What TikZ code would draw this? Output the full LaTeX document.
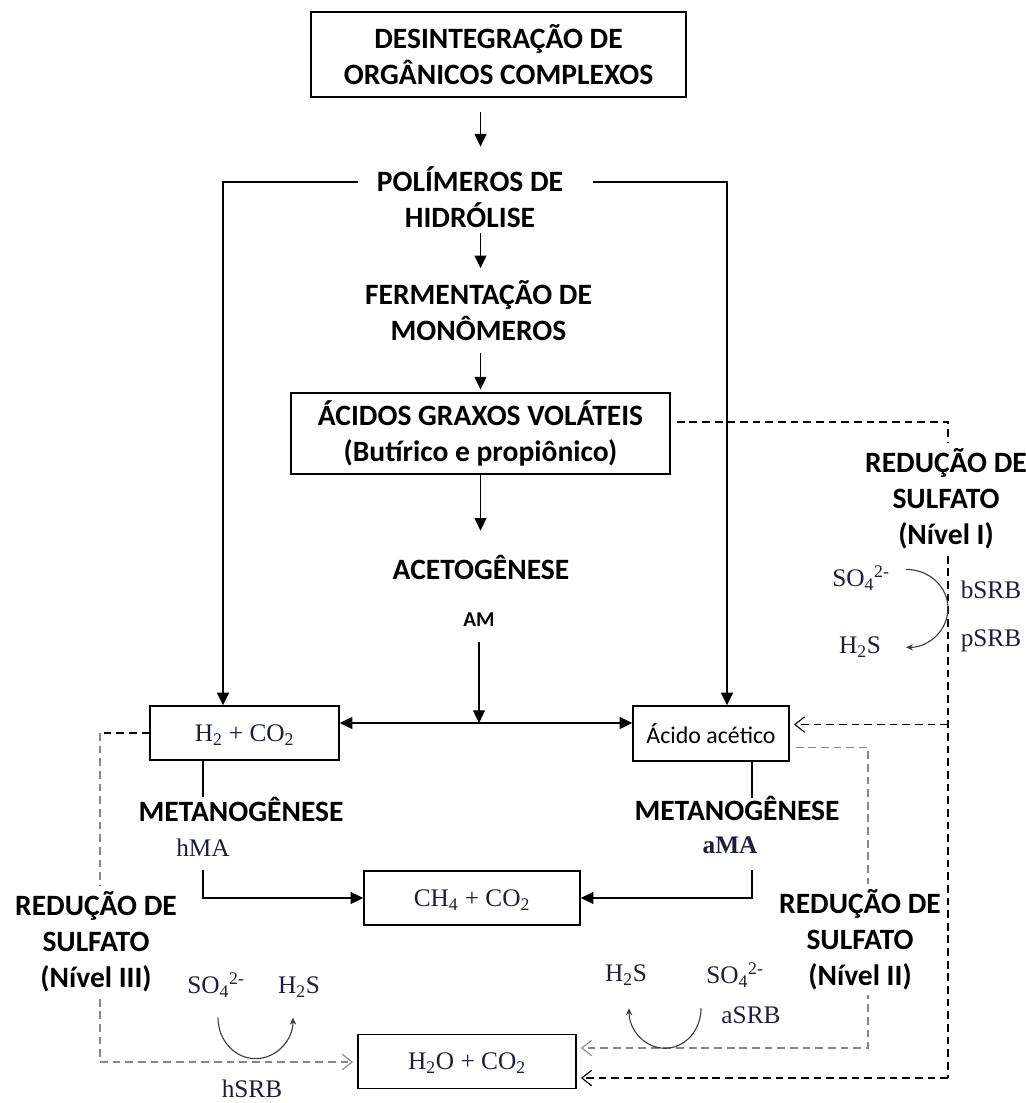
\documentclass[tikz,border=0pt]{standalone}
\usepackage{fontspec}
\setmainfont{Carlito}
\newfontfamily\tnr{Liberation Serif}
\usetikzlibrary{arrows.meta,calc}
\definecolor{formula}{RGB}{28,30,62}
\definecolor{dashgray}{RGB}{135,135,135}
\definecolor{curvegray}{RGB}{60,60,60}

\begin{document}
\begin{tikzpicture}[x=0.025cm, y=-0.025cm,
  box/.style={draw, line width=1pt, inner sep=0pt},
  lbl/.style={font=\bfseries\fontsize{21}{25.5}\selectfont, align=center, inner sep=0pt},
  one/.style={text height=13.5pt, text depth=0pt},
  chem/.style={font=\tnr\fontsize{18}{20}\selectfont, text=formula, inner sep=0pt, text height=11.9pt, text depth=0pt},
  arr/.style={line width=0.9pt, -{Triangle[length=9pt,width=8.5pt]}},
  dsh/.style={line width=0.9pt, dash pattern=on 5.5pt off 3.5pt},
  gdsh/.style={dsh, draw=dashgray, line width=1.1pt},
  oarr/.style={-{Straight Barb[length=7pt,width=11pt,line width=0.8pt]}, shorten >=3pt},
  crv/.style={draw=curvegray, line width=0.8pt, -{Stealth[length=5pt,width=4.5pt]}},
  redn/.style={lbl, fill=white, inner sep=4pt}]
\useasboundingbox (0,0) rectangle (1025,1103);

% main column:
\node[box, lbl, minimum width=9.375cm, minimum height=2.125cm] (desint) at (498.5,54.5) {DESINTEGRAÇÃO DE\\ORGÂNICOS COMPLEXOS};
\node[lbl] (polim) at (470,197) {POLÍMEROS DE\\HIDRÓLISE};
\node[lbl] (ferm) at (478.5,311) {FERMENTAÇÃO DE\\MONÔMEROS};
\node[box, lbl, minimum width=9.475cm, minimum height=2.025cm] (agv) at (480.5,433.5) {ÁCIDOS GRAXOS VOLÁTEIS\\(Butírico e propiônico)};
\node[lbl, one] (acet) at (481,570) {ACETOGÊNESE};
\node[font=\bfseries\fontsize{15}{18}\selectfont, inner sep=0pt, text height=9.7pt, text depth=0pt] (am) at (479,620) {AM};

% intermediate products:
\node[box, chem, minimum width=4.725cm, minimum height=1.35cm] (hco) at (244.5,733) {H\textsubscript{2} + CO\textsubscript{2}};
\node[box, font=\fontsize{17}{20}\selectfont, minimum width=3.9cm, minimum height=1.375cm] (acido) at (711,733.5) {Ácido acético};
\node[lbl, one] (metl) at (241,812) {METANOGÊNESE};
\node[chem] (hma) at (203,848) {hMA};
\node[lbl, one] (metr) at (737,811) {METANOGÊNESE};
\node[chem, font=\tnr\bfseries\fontsize{18}{20}\selectfont] (ama) at (730,845) {aMA};
\node[box, chem, minimum width=5.4cm, minimum height=1.35cm] (ch4) at (472,898) {CH\textsubscript{4} + CO\textsubscript{2}};
\node[box, chem, minimum width=5.45cm, minimum height=1.35cm] (h2o) at (467,1061.5) {H\textsubscript{2}O + CO\textsubscript{2}};

% sulfate species:
\node[chem] (so4a) at (861,578) {SO\textsubscript{4}\textsuperscript{2-}};
\node[chem] (h2sa) at (860,645) {H\textsubscript{2}S};
\node[chem] (bsrb) at (991,590) {bSRB};
\node[chem] (psrb) at (991,638) {pSRB};
\node[chem] (h2sb) at (626,973) {H\textsubscript{2}S};
\node[chem] (so4b) at (735,975) {SO\textsubscript{4}\textsuperscript{2-}};
\node[chem] (asrb) at (751,1015) {aSRB};
\node[chem] (so4c) at (216,985) {SO\textsubscript{4}\textsuperscript{2-}};
\node[chem] (h2sc) at (299,985) {H\textsubscript{2}S};
\node[chem] (hsrb) at (252,1089) {hSRB};

% arrows down the column:
\draw[arr, shorten <=10.5pt, shorten >=14pt] (desint.south -| agv) -- (polim.north -| agv);
\draw[arr, shorten <=3.9pt, shorten >=8.9pt] (polim.south -| agv) -- (ferm.north -| agv);
\draw[arr, shorten <=8.2pt, shorten >=2pt] (ferm.south -| agv) -- (agv.north);
\draw[arr, shorten >=21pt] (agv.south) -- (acet.north -| agv);
\coordinate (jn) at ($(hco.east)+(0,-10)$);
\draw[line width=0.9pt, {Triangle[length=9pt,width=8.5pt]}-{Triangle[length=9pt,width=8.5pt]}] (jn) -- (jn -| acido.west);
\draw[arr, shorten <=10.8pt] (am.south) -- (am |- jn);

% hydrolysis branches:
\draw[arr, line width=1.1pt] ($(polim.west)+(-19,-15)$) -| ($(hco.north)+(-21.5,0)$);
\draw[arr, line width=1.1pt] ($(polim.east)+(30,-15)$) -| ($(acido.north)+(16,0)$);

% methanogenesis:
\draw[line width=0.9pt, shorten >=3.9pt] (hco.south -| hma) -- (metl.north -| hma);
\draw[arr, shorten <=9.7pt] (hma.south) |- (ch4.west);
\draw[line width=0.9pt, shorten >=2.5pt] ($(acido.south)+(41,0)$) -- ($(metr.north)+(15,0)$);
\draw[arr, shorten <=11.8pt] ($(ama.south)+(22,0)$) |- (ch4.east);

% sulfate reduction paths:
\coordinate (nI) at (948,422);
\coordinate (nIb) at (948,1078);
\coordinate (nII) at (868,1048);
\coordinate (nIII) at (100,1062);
\coordinate (jn2) at ($(acido.east)+(0,-9)$);
\draw[dsh, shorten <=4.3pt] (agv.east |- nI) -- (nI) -- (nIb);
\draw[dsh, oarr] (nIb) -- (nIb -| h2o.east);
\draw[dsh, oarr] (jn2 -| nI) -- (jn2);
\draw[gdsh, oarr, shorten <=4.3pt] ($(acido.east)+(0,14)$) -| (nII) -- (nII -| h2o.east);
\draw[dsh] (hco.west) -- (hco.west -| nIII);
\draw[gdsh, oarr] (hco.west -| nIII) -- (nIII) -- (nIII -| h2o.west);

\node[redn] (red1) at (946,499) {REDUÇÃO DE\\SULFATO\\(Nível I)};
\node[redn] (red2) at (860,939.5) {REDUÇÃO DE\\SULFATO\\(Nível II)};
\node[redn] (red3) at (96,942) {REDUÇÃO DE\\SULFATO\\(Nível III)};

% SRB cycles:
\draw[crv] ($(so4a.north east)+(16,0)$) arc[start angle=-90, end angle=90, x radius=42, y radius=39];
\draw[crv] ($(so4b.south west)+(-5,24.6)$) arc[start angle=0, end angle=180, x radius=36, y radius=40];
\draw[crv] ($(so4c.south)+(2,24)$) arc[start angle=180, end angle=0, x radius=37.5, y radius=41];
\end{tikzpicture}
\end{document}
